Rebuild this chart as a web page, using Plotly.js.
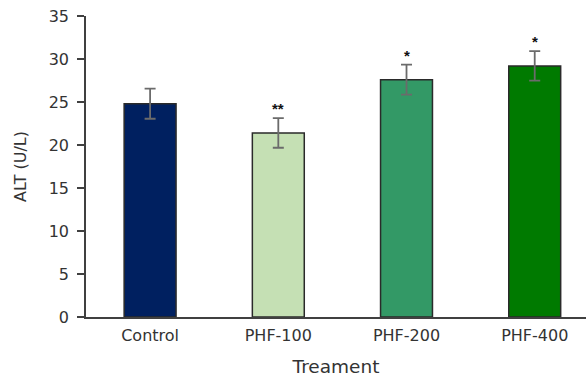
<!DOCTYPE html>
<html>
<head>
<meta charset="utf-8">
<script src="https://cdn.plot.ly/plotly-3.0.1.min.js"></script>
<style>html,body{margin:0;padding:0;background:#fff;}#chart{width:586px;height:377px;}</style>
</head>
<body>
<div id="chart"></div>
<script>
var categories = ['Control', 'PHF-100', 'PHF-200', 'PHF-400'];
var altValues = [24.8, 21.4, 27.6, 29.2];
var altErrors = [1.75, 1.72, 1.75, 1.72];
var significance = ['', '**', '*', '*'];
var barColors = ['#002060', '#C5E0B4', '#339966', '#007A00'];

var trace = {
  type: 'bar',
  x: categories,
  y: altValues,
  width: 0.405,
  marker: {color: barColors, line: {color: '#2a2a2a', width: 1.5}},
  error_y: {type: 'data', array: altErrors, visible: true, color: '#6b6b6b', thickness: 1.8, width: 5.5},
  hoverinfo: 'none'
};

var annotations = [];
for (var i = 0; i < categories.length; i++) {
  if (significance[i]) {
    annotations.push({
      x: categories[i], y: altValues[i] + altErrors[i], xref: 'x', yref: 'y',
      text: '<b>' + significance[i] + '</b>', showarrow: false, yanchor: 'bottom', yshift: -1,
      font: {family: 'Liberation Sans, Arial, sans-serif', size: 15, color: '#111111'}
    });
  }
}

var layout = {
  width: 586, height: 377,
  margin: {l: 86, r: 0, t: 16, b: 60, pad: 0},
  paper_bgcolor: '#ffffff', plot_bgcolor: '#ffffff',
  showlegend: false,
  font: {family: 'DejaVu Sans, sans-serif', size: 16, color: '#333333'},
  xaxis: {
    type: 'category', range: [-0.5, 3.4],
    showline: true, linecolor: '#404040', linewidth: 1.8,
    ticks: '', showgrid: false, zeroline: false,
    ticklabelstandoff: 3,
    tickfont: {family: 'DejaVu Sans, sans-serif', size: 16, color: '#333333'},
    title: {text: 'Treament', standoff: 18, font: {family: 'DejaVu Sans, sans-serif', size: 18.5, color: '#333333'}}
  },
  yaxis: {
    range: [0, 35], dtick: 5, tick0: 0,
    showline: true, linecolor: '#404040', linewidth: 1.8,
    ticks: 'outside', ticklen: 7, tickwidth: 1.5, tickcolor: '#404040',
    ticklabelstandoff: 5,
    showgrid: false, zeroline: false,
    tickfont: {family: 'DejaVu Sans, sans-serif', size: 16, color: '#333333'},
    title: {text: 'ALT (U/L)', standoff: 18, font: {family: 'DejaVu Sans, sans-serif', size: 16, color: '#333333'}}
  },
  annotations: annotations
};

Plotly.newPlot('chart', [trace], layout, {displayModeBar: false, staticPlot: true});
</script>
</body>
</html>
